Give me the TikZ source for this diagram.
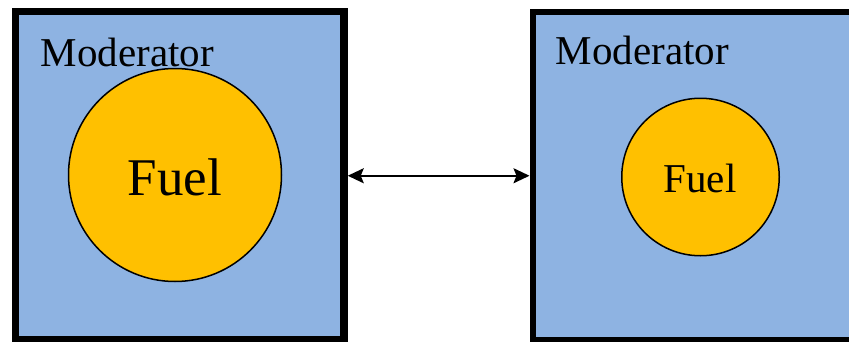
\documentclass[tikz,border=0pt]{standalone}
\usepackage{fontspec}
\setmainfont{Liberation Serif}
\usetikzlibrary{arrows.meta}
\definecolor{modblue}{RGB}{142,179,226}
\definecolor{fuelgold}{RGB}{255,192,0}
\tikzset{
  modbox/.style={draw=black, fill=modblue, rectangle, inner sep=0pt},
  fuelpin/.style={draw=black, fill=fuelgold, circle, inner sep=0pt, line width=1.5pt},
  lbl/.style={inner sep=0pt, font=\fontsize{41}{41}\selectfont},
}
\begin{document}
\begin{tikzpicture}[x=1pt,y=1pt]
\useasboundingbox (0,0) rectangle (849,341);
\node[modbox, line width=7.5pt, minimum width=328.5pt, minimum height=328.5pt] (box1) at (179.75,165.25) {};
\node[modbox, line width=6pt, minimum width=327.5pt, minimum height=327.5pt] (box2) at (696.25,165.25) {};
\node[fuelpin, minimum size=213pt] (fuel1) at (175,166) {};
\node[fuelpin, minimum size=157.5pt] (fuel2) at (700.5,164) {};
\node[lbl, anchor=base west] (mod1) at (40.5,275) {Moderator};
\node[lbl, anchor=base west] (mod2) at (555.5,276.7) {Moderator};
\node[lbl, anchor=base, font=\fontsize{53}{53}\selectfont] (f1) at (175,145.3) {Fuel};
\node[lbl, anchor=base] (f2) at (700,148.3) {Fuel};
\draw[line width=2pt, {Stealth[length=16pt,width=15pt,inset=3pt]}-{Stealth[length=16pt,width=15pt,inset=3pt]}] (box1.east) -- (box2.west);
\end{tikzpicture}
\end{document}
